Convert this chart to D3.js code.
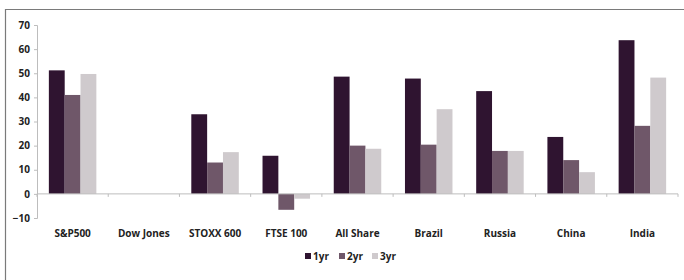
<!DOCTYPE html>
<html>
<head>
<meta charset="utf-8">
<script src="https://cdn.jsdelivr.net/npm/d3@7"></script>
<style>
    body { margin: 0; background: #fff; }
    svg { display: block; }
    text { font-family: "Open Sans", "DejaVu Sans", sans-serif; font-weight: bold; fill: #222; }
</style>
</head>
<body>
<div id="container"></div>
<script>
// Chart data
var categories = ["S&P500", "Dow Jones", "STOXX 600", "FTSE 100", "All Share", "Brazil", "Russia", "China", "India"]
var series_names = ["1yr", "2yr", "3yr"]
var values_1yr = [51.2, null, 33, 15.8, 48.6, 47.8, 42.6, 23.6, 63.7]
var values_2yr = [41, null, 13, -6.6, 20, 20.4, 17.8, 14, 28.2]
var values_3yr = [49.7, null, 17.3, -2, 18.7, 35.1, 17.8, 9, 48.2]
var y_ticks = [-10, 0, 10, 20, 30, 40, 50, 60, 70]
var colors = ["#2f1430", "#6f5769", "#cfcacd"]

function draw() {
    var width = 684, height = 280
    var left = 37, right = 678, top = 25, bottom = 218

    var svg = d3.select("#container").append("svg")
            .attr("width", width)
            .attr("height", height)

    // Outer frame (left and top edges only visible)
    svg.append("path")
            .attr("d", "M5.5,280 V9.5 H684")
            .attr("fill", "none")
            .attr("stroke", "#7a7a7a")
            .attr("stroke-width", 1.2)

    var x = d3.scaleBand().domain(categories).range([left, right]).paddingInner(0.333).paddingOuter(0.1665)
    var x_full = d3.scaleBand().domain(categories).range([left, right])
    var y = d3.scaleLinear().domain([-10, 70]).range([bottom, top])
    var x_inner = d3.scaleBand().domain(series_names).range([0, x.bandwidth()])

    // Y axis
    var y_axis = svg.append("g")
            .attr("transform", "translate(" + left + ",0)")
            .call(d3.axisLeft(y).tickValues(y_ticks).tickSize(3).tickPadding(4))
    y_axis.select(".domain").attr("stroke", "#bdbdbd")
    y_axis.selectAll(".tick line").attr("stroke", "#bdbdbd")
    y_axis.selectAll("text").style("font-size", "10px").attr("fill", "#222")

    // Bars
    var all_series = [values_1yr, values_2yr, values_3yr]
    for (var s = 0; s < all_series.length; s++) {
        var vals = all_series[s]
        svg.append("g").selectAll("rect")
                .data(categories.map(function(c, i) { return {cat: c, v: vals[i]} }).filter(function(d) { return d.v !== null }))
                .enter().append("rect")
                .attr("x", function(d) { return x(d.cat) + x_inner(series_names[s]) })
                .attr("y", function(d) { return y(Math.max(0, d.v)) })
                .attr("width", x_inner.bandwidth())
                .attr("height", function(d) { return Math.abs(y(d.v) - y(0)) })
                .attr("fill", colors[s])
    }

    // X axis at zero, ticks between categories
    var x_ax = svg.append("g").attr("transform", "translate(0," + y(0) + ")")
    x_ax.append("line")
            .attr("x1", left).attr("x2", right)
            .attr("stroke", "#bdbdbd")
    x_ax.selectAll("line.tk")
            .data(categories.concat(["end"]))
            .enter().append("line")
            .attr("class", "tk")
            .attr("x1", function(d, i) { return left + i * x_full.step() })
            .attr("x2", function(d, i) { return left + i * x_full.step() })
            .attr("y1", 0).attr("y2", 3)
            .attr("stroke", "#bdbdbd")

    // Category labels
    svg.append("g").selectAll("text")
            .data(categories)
            .enter().append("text")
            .attr("x", function(d) { return x_full(d) + x_full.bandwidth() / 2 })
            .attr("y", 237)
            .attr("text-anchor", "middle")
            .style("font-size", "10px")
            .text(function(d) { return d })

    // Legend
    var legend_x = [305, 339, 372]
    var legend = svg.append("g")
    for (var k = 0; k < series_names.length; k++) {
        legend.append("rect")
                .attr("x", legend_x[k]).attr("y", 253)
                .attr("width", 6).attr("height", 6)
                .attr("fill", colors[k])
        legend.append("text")
                .attr("x", legend_x[k] + 8).attr("y", 260)
                .style("font-size", "10px")
                .text(series_names[k])
    }
}

draw()
</script>
</body>
</html>
